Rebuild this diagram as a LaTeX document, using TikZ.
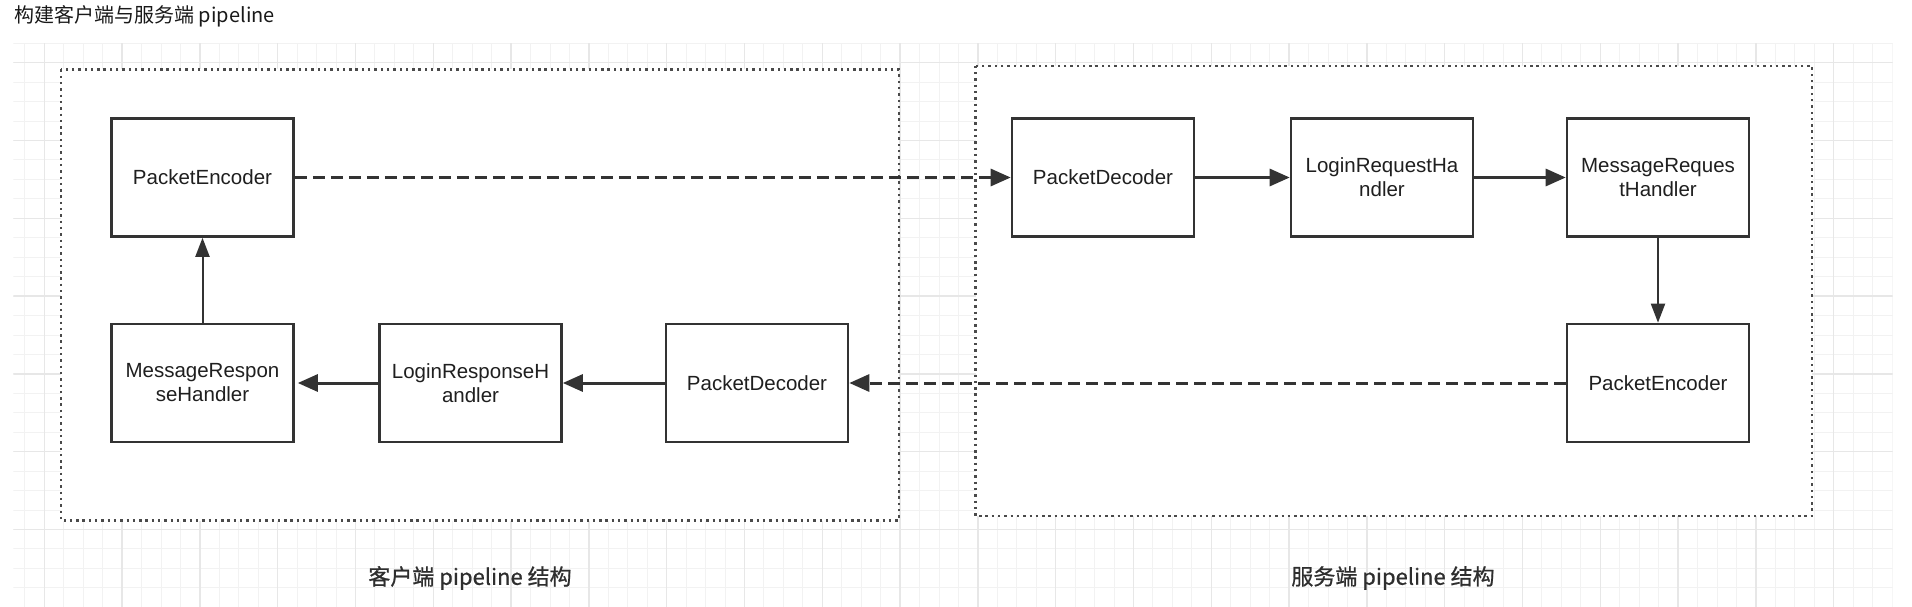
\documentclass[tikz,border=0pt]{standalone}
\usepackage{fontspec}
\setmainfont{Liberation Sans}
\newfontfamily\cjk[AutoFakeBold=0.8]{Noto Sans CJK SC}
\usetikzlibrary{arrows.meta}
\definecolor{linegray}{HTML}{333333}
\definecolor{dotgray}{HTML}{4A4A4A}
\definecolor{gridminor}{HTML}{F2F2F2}
\definecolor{gridmajor}{HTML}{E7E7E7}
\tikzset{every picture/.style={x=1pt, y=-1pt}}
\tikzset{handler/.style={draw=linegray, line width=2.6pt, fill=white, minimum width=182pt, minimum height=118pt, inner sep=0pt, align=center, text=black!88, font=\fontsize{20.5}{24}\selectfont}}
\tikzset{pipe/.style={draw=dotgray, line width=2.4pt, dash pattern=on 2.4pt off 3.9pt, fill=white}}
\tikzset{flow/.style={draw=linegray, line width=3pt, -{Triangle[length=20pt, width=17pt]}}}
\tikzset{wire/.style={flow, dash pattern=on 12pt off 6pt}}
\tikzset{thinflow/.style={draw=linegray, line width=2pt, -{Triangle[length=19pt, width=14pt]}}}
\tikzset{caption/.style={text=black!82, font=\cjk\bfseries\fontsize{22}{26}\selectfont}}

\begin{document}
\begin{tikzpicture}
\useasboundingbox (0,0) rectangle (1912,607);
\fill[white] (0,0) rectangle (1912,607);
% background grid
\begin{scope}
\clip (13.3,43.3) rectangle (1892.7,607);
\foreach \k in {-1,...,95} {
    \draw[gridminor, line width=1pt] ({44.3+19.45*\k},43.3) -- ({44.3+19.45*\k},607);
}
\foreach \k in {-1,...,28} {
    \draw[gridminor, line width=1pt] (13.3,{62.7+19.45*\k}) -- (1892.7,{62.7+19.45*\k});
}
\foreach \k in {0,...,23} {
    \draw[gridmajor, line width=1.3pt] ({44.3+77.8*\k},43.3) -- ({44.3+77.8*\k},607);
}
\foreach \k in {0,...,6} {
    \draw[gridmajor, line width=1.3pt] (13.3,{62.7+77.8*\k}) -- (1892.7,{62.7+77.8*\k});
}
\end{scope}

\node[anchor=west, text=black!90, font=\cjk\fontsize{20}{24}\selectfont] (title) at (11,16) {构建客户端与服务端 pipeline};

% the two pipelines
\draw[pipe] (61,69.5) rectangle (898.7,520.5);
\draw[pipe] (975.5,65.8) rectangle (1812,515.8);

\node[handler] (cEnc) at (202.5,177.5) {PacketEncoder};
\node[handler] (cMsg) at (202.5,383) {MessageRespon\\seHandler};
\node[handler] (cLogin) at (470.5,383) {LoginResponseH\\andler};
\node[handler] (cDec) at (757,383) {PacketDecoder};

\node[handler] (sDec) at (1103,177.5) {PacketDecoder};
\node[handler] (sLogin) at (1382,177.5) {LoginRequestHa\\ndler};
\node[handler] (sMsg) at (1658,177.5) {MessageReques\\tHandler};
\node[handler] (sEnc) at (1658,383) {PacketEncoder};

\draw[wire] (cEnc) -- (sDec);
\draw[flow] (sDec) -- (sLogin);
\draw[flow] (sLogin) -- (sMsg);
\draw[thinflow] (sMsg) -- (sEnc);
\draw[wire] (sEnc) -- (cDec);
\draw[flow] (cDec) -- (cLogin);
\draw[flow, shorten >=3pt] (cLogin) -- (cMsg);
\draw[thinflow] (cMsg) -- (cEnc);

\node[caption] (clientcap) at (470,578) {客户端 pipeline 结构};
\node[caption] (servercap) at (1393,578) {服务端 pipeline 结构};
\end{tikzpicture}
\end{document}
